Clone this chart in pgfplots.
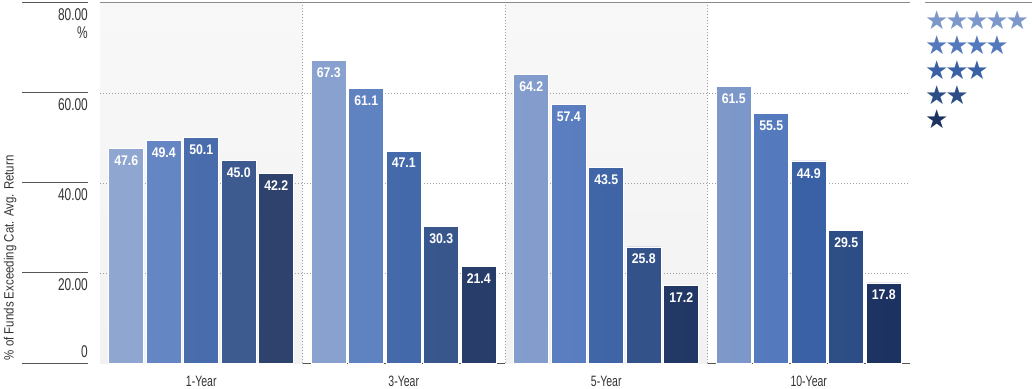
\documentclass[border=0pt]{standalone}
\usepackage{pgfplots}
\pgfplotsset{compat=1.18}
\usepackage{fontspec}
\setmainfont[FakeStretch=0.7]{Liberation Sans}
\newfontfamily\valfont[FakeStretch=0.88]{Liberation Sans}
\newfontfamily\labfont[FakeStretch=0.85]{Liberation Sans}
\newfontfamily\starfont{DejaVu Sans}
\newcommand{\s}{★\kern-3.2pt}
\definecolor{cA}{HTML}{7C97C9}
\definecolor{cB}{HTML}{5479BD}
\definecolor{cC}{HTML}{3A61A5}
\definecolor{cD}{HTML}{2D4D86}
\definecolor{cE}{HTML}{1C3261}
\definecolor{tickc}{HTML}{333333}
\definecolor{axisgray}{HTML}{555555}
\definecolor{topgray}{HTML}{8A8A8A}
\definecolor{gridc}{HTML}{A0A0A0}
\definecolor{panelT}{HTML}{F8F8F8}
\definecolor{panelB}{HTML}{F2F2F2}
\begin{document}
\begin{tikzpicture}
\path[use as bounding box] (0,0) rectangle (1032pt,388pt);
\begin{axis}[
  at={(100pt,25pt)}, anchor=south west,
  scale only axis, width=810pt, height=360pt,
  xmin=-0.5, xmax=3.5, ymin=0, ymax=80,
  ybar=2.5pt, bar width=35pt,
  clip=false,
  axis x line*=bottom, axis y line*=left,
  x axis line style={draw=axisgray, line width=1pt, -},
  y axis line style={draw=none},
  xtick={0,1,2,3}, xticklabels={1-Year,3-Year,5-Year,10-Year},
  xtick style={draw=none}, ytick style={draw=none},
  xticklabel style={anchor=north, inner sep=0pt, yshift=-9pt, font=\fontsize{15}{16}\selectfont, text=tickc},
  ytick={20,40,60,80}, yticklabels={20.00,40.00,60.00,{80.00\\\%}},
  yticklabel style={anchor=north east, inner sep=0pt, xshift=-12pt, yshift=-5pt, align=right, font=\fontsize{17}{18}\selectfont, text=tickc},
  extra y ticks={0}, extra y tick labels={0},
  extra y tick style={yticklabel style={anchor=south east, yshift=10pt}},
  ylabel={\% of Funds Exceeding Cat. Avg. Return},
  ylabel style={at={(axis description cs:-0.111,0.292)}, anchor=center, font=\labfont\fontsize{13.5}{15}\selectfont, text=tickc},
  nodes near coords={\pgfmathprintnumber[fixed,fixed zerofill,precision=1,assume math mode=true]{\pgfplotspointmeta}},
  nodes near coords style={anchor=north, yshift=-7pt, inner sep=0pt, text=white, font=\valfont\bfseries\fontsize{14}{16}\selectfont},
  legend image code/.code={},
  legend style={at={(1.016,0.984)}, anchor=north west, draw=none, fill=none, inner sep=0pt, row sep=0.5pt,
    font=\starfont\fontsize{26}{26}\selectfont, cells={anchor=west}},
  legend cell align=left,
]
% background panels
\shade[top color=panelT, bottom color=panelB, draw=none] (axis cs:-0.5,0) rectangle (axis cs:0.5,80);
\shade[top color=panelT, bottom color=panelB, draw=none] (axis cs:1.5,0) rectangle (axis cs:2.5,80);
% dotted grid
\draw[gridc, line width=0.7pt, dash pattern=on 1pt off 2pt] (axis cs:-0.5,20) -- (axis cs:3.5,20);
\draw[gridc, line width=0.7pt, dash pattern=on 1pt off 2pt] (axis cs:-0.5,40) -- (axis cs:3.5,40);
\draw[gridc, line width=0.7pt, dash pattern=on 1pt off 2pt] (axis cs:-0.5,60) -- (axis cs:3.5,60);
\draw[gridc, line width=0.7pt, dash pattern=on 1pt off 2pt] (axis cs:0.5,0) -- (axis cs:0.5,80);
\draw[gridc, line width=0.7pt, dash pattern=on 1pt off 2pt] (axis cs:1.5,0) -- (axis cs:1.5,80);
\draw[gridc, line width=0.7pt, dash pattern=on 1pt off 2pt] (axis cs:2.5,0) -- (axis cs:2.5,80);
\draw[topgray, line width=1pt] (axis cs:-0.5,80) -- (axis cs:3.5,80);

\addplot[draw=white, line width=0.6pt, left color=cA!85!white, right color=cA] coordinates {(0,47.6) (1,67.3) (2,64.2) (3,61.5)};
\addlegendentry{\textcolor{cA}{\s\s\s\s★}}
\addplot[draw=white, line width=0.6pt, left color=cB!90!white, right color=cB] coordinates {(0,49.4) (1,61.1) (2,57.4) (3,55.5)};
\addlegendentry{\textcolor{cB}{\s\s\s★}}
\addplot[draw=white, line width=0.6pt, left color=cC!92!white, right color=cC] coordinates {(0,50.1) (1,47.1) (2,43.5) (3,44.9)};
\addlegendentry{\textcolor{cC}{\s\s★}}
\addplot[draw=white, line width=0.6pt, left color=cD!92!white, right color=cD] coordinates {(0,45.0) (1,30.3) (2,25.8) (3,29.5)};
\addlegendentry{\textcolor{cD}{\s★}}
\addplot[draw=white, line width=0.6pt, left color=cE!92!white, right color=cE] coordinates {(0,42.2) (1,21.4) (2,17.2) (3,17.8)};
\addlegendentry{\textcolor{cE}{★}}
\end{axis}
\draw[axisgray, line width=1pt] (22pt,25pt) -- (88pt,25pt);
\draw[axisgray, line width=1pt] (22pt,115pt) -- (88pt,115pt);
\draw[axisgray, line width=1pt] (22pt,205pt) -- (88pt,205pt);
\draw[axisgray, line width=1pt] (22pt,295pt) -- (88pt,295pt);
\draw[axisgray, line width=1pt] (22pt,385pt) -- (88pt,385pt);
\draw[topgray, line width=1pt] (925pt,385pt) -- (1032pt,385pt);
\end{tikzpicture}
\end{document}
